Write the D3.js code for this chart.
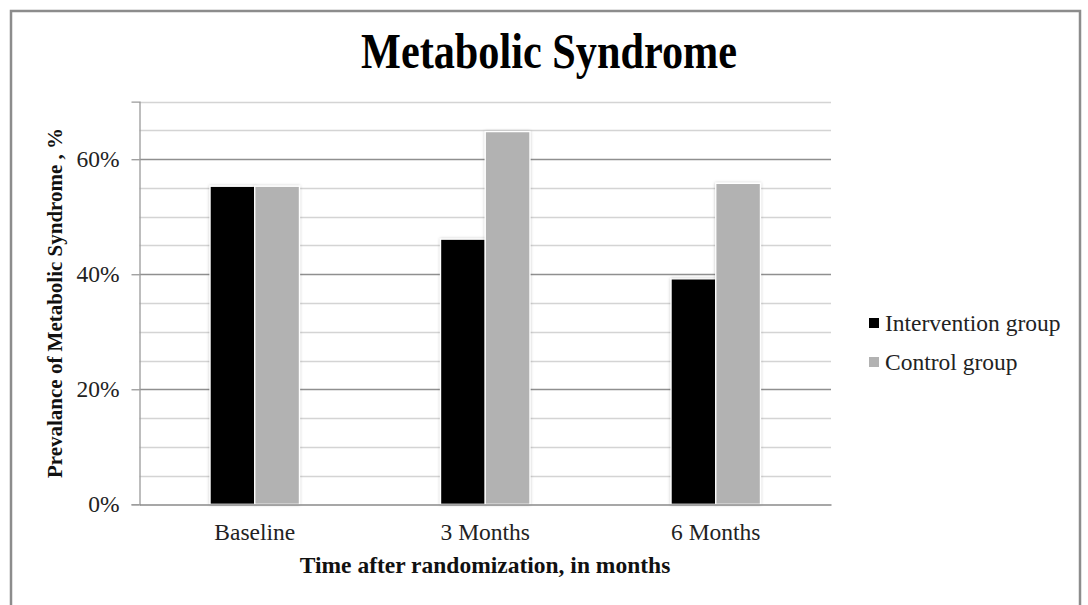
<!DOCTYPE html>
<html>
<head>
<meta charset="utf-8">
<script src="https://cdn.jsdelivr.net/npm/d3@7"></script>
<style>
  html, body { margin: 0; padding: 0; background: #fff; }
  svg { display: block; font-family: "Liberation Serif", "Times New Roman", serif; }
</style>
</head>
<body>
<svg id="chart" width="1088" height="605"></svg>
<script>
const categories = ["Baseline", "3 Months", "6 Months"];
const seriesNames = ["Intervention group", "Control group"];
const intervention = [55.3, 46.1, 39.2];
const control = [55.3, 64.8, 55.8];
const yTicks = [0, 20, 40, 60];
const yMinor = [0, 5, 10, 15, 20, 25, 30, 35, 40, 45, 50, 55, 60, 65, 70];
const title = "Metabolic Syndrome";
const xTitle = "Time after randomization,  in months";
const yTitle = "Prevalance of Metabolic Syndrome , %";
const colors = ["#000000", "#b2b2b2"];

const svg = d3.select("#chart");
const plot = { left: 139.5, right: 831, top: 101.7, bottom: 504.3 };

// outer border
svg.append("rect").attr("x", 11).attr("y", 11).attr("width", 1069).attr("height", 620)
  .attr("fill", "#fff").attr("stroke", "#8c8c8c").attr("stroke-width", 2.5);

const defs = svg.append("defs");
const f = defs.append("filter").attr("id", "shadow").attr("x", "-20%").attr("y", "-10%").attr("width", "140%").attr("height", "120%");
f.append("feDropShadow").attr("dx", 0).attr("dy", 0).attr("stdDeviation", 1.6)
  .attr("flood-color", "#000").attr("flood-opacity", 0.25);

const x = d3.scaleBand().domain(categories).range([plot.left, plot.right]).paddingInner(0).paddingOuter(0);
const y = d3.scaleLinear().domain([0, 70]).range([plot.bottom, plot.top]);
const groupWidth = 89.4;
const xs = d3.scaleBand().domain(seriesNames).range([0, groupWidth]).padding(0);

// minor gridlines
svg.append("g").selectAll("line").data(yMinor.filter(v => !yTicks.includes(v))).join("line")
  .attr("x1", plot.left).attr("x2", plot.right)
  .attr("y1", d => Math.round(y(d)) + 0.5).attr("y2", d => Math.round(y(d)) + 0.5)
  .attr("stroke", "#d4d4d4").attr("stroke-width", 1.3);

// major gridlines
svg.append("g").selectAll("line").data(yTicks.filter(v => v !== 0)).join("line")
  .attr("x1", plot.left).attr("x2", plot.right)
  .attr("y1", d => Math.round(y(d)) + 0.5).attr("y2", d => Math.round(y(d)) + 0.5)
  .attr("stroke", "#8f8f8f").attr("stroke-width", 1.3);

// bars
const data = categories.map((c, i) => ({ cat: c, vals: [intervention[i], control[i]] }));
const groups = svg.append("g").selectAll("g").data(data).join("g")
  .attr("transform", d => `translate(${x(d.cat) + (x.bandwidth() - groupWidth) / 2},0)`);
groups.selectAll("rect").data(d => d.vals.map((v, j) => ({ v, s: seriesNames[j], j }))).join("rect")
  .attr("x", d => xs(d.s))
  .attr("width", xs.bandwidth())
  .attr("y", d => y(d.v))
  .attr("height", d => y(0) - y(d.v))
  .attr("fill", d => colors[d.j])
  .attr("stroke", "#fff").attr("stroke-width", 1.3)
  .attr("filter", "url(#shadow)");

// y axis
const yAxis = d3.axisLeft(y).tickValues(yTicks).tickFormat(d => d + "%").tickSize(8).tickPadding(12);
const ya = svg.append("g").attr("transform", `translate(${plot.left},0)`).call(yAxis);
ya.select(".domain").attr("stroke", "#9a9a9a").attr("stroke-width", 1.3);
ya.selectAll(".tick line").attr("stroke", "#9a9a9a").attr("stroke-width", 1.3);
ya.selectAll(".tick text").attr("font-family", "Liberation Serif").attr("font-size", 23.5).attr("fill", "#222");

// x axis
const xAxis = d3.axisBottom(x).tickSize(0).tickPadding(19);
const xa = svg.append("g").attr("transform", `translate(0,${Math.round(plot.bottom) + 0.5})`).call(xAxis);
xa.select(".domain").attr("stroke", "#8a8a8a").attr("stroke-width", 1.3);
xa.selectAll(".tick text").attr("font-family", "Liberation Serif").attr("font-size", 23.5).attr("fill", "#222");

// title
svg.append("text").attr("x", 549).attr("y", 68).attr("text-anchor", "middle")
  .attr("font-size", 50).attr("font-weight", "bold").attr("fill", "#000")
  .attr("textLength", 376).attr("lengthAdjust", "spacingAndGlyphs")
  .text(title);

// x title
svg.append("text").attr("x", 485).attr("y", 573).attr("text-anchor", "middle")
  .attr("font-size", 23.5).attr("font-weight", "bold").attr("fill", "#111")
  .text(xTitle);

// y title
svg.append("text").attr("transform", `translate(62,${(plot.top + plot.bottom) / 2}) rotate(-90)`)
  .attr("text-anchor", "middle")
  .attr("font-size", 22).attr("font-weight", "bold").attr("fill", "#111")
  .attr("textLength", 350).attr("lengthAdjust", "spacingAndGlyphs")
  .text(yTitle);

// legend
const lg = svg.append("g").selectAll("g").data(seriesNames).join("g")
  .attr("transform", (d, i) => `translate(869,${323 + i * 39})`);
lg.append("rect").attr("x", 0).attr("y", -5).attr("width", 10).attr("height", 10)
  .attr("fill", (d, i) => colors[i]);
lg.append("text").attr("x", 16).attr("y", 0).attr("dy", "0.34em")
  .attr("font-size", 23.5).attr("fill", "#222").text(d => d);
</script>
</body>
</html>
